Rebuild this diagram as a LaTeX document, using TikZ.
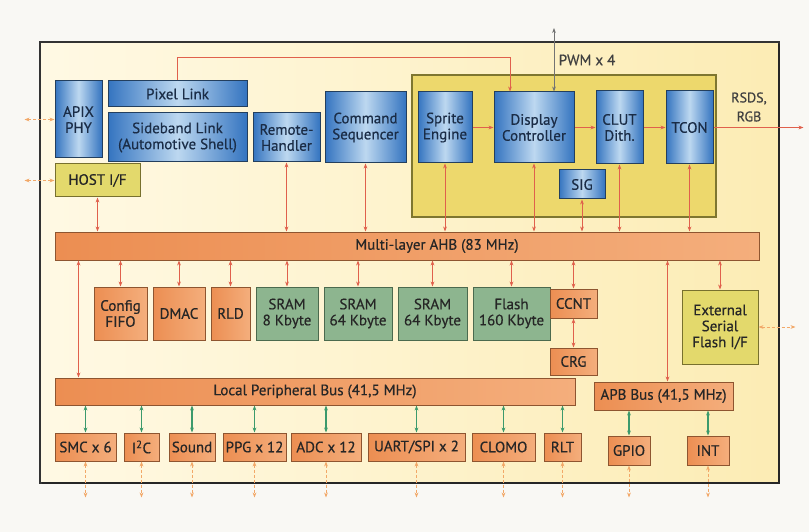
\documentclass[tikz,border=0pt]{standalone}
\usepackage{fontspec}
\setmainfont{PT Sans}[FakeBold=0.5]
\usetikzlibrary{arrows.meta, positioning}

\definecolor{papier}{HTML}{F9F8F4}
\definecolor{chipgelb}{HTML}{FCECB4}
\definecolor{chiphell}{HTML}{FFF9E4}
\definecolor{dispgelb}{HTML}{EDD86C}
\definecolor{dispdraw}{HTML}{7E7630}
\definecolor{blaurand}{HTML}{3474C0}
\definecolor{blaumitte}{HTML}{BDD8F0}
\definecolor{blaudraw}{HTML}{233F5E}
\definecolor{blautext}{HTML}{1A2C46}
\definecolor{orangel}{HTML}{EC8E52}
\definecolor{oranger}{HTML}{F4AE7C}
\definecolor{orangedraw}{HTML}{8E5530}
\definecolor{gruen}{HTML}{8DB58F}
\definecolor{gruendraw}{HTML}{4B6A4E}
\definecolor{oliv}{HTML}{E3D96C}
\definecolor{olivdraw}{HTML}{77702E}
\definecolor{rot}{HTML}{E0604C}
\definecolor{pfeilgruen}{HTML}{3C9A6C}
\definecolor{extorange}{HTML}{F2A868}

\begin{document}
\begin{tikzpicture}[
    x=1pt, y=-1pt,
    node distance = 5pt and 5pt,
    blau/.style = {rectangle, draw=blaudraw, line width=1pt, left color=blaurand,
                   right color=blaurand, middle color=blaumitte, text=blautext,
                   align=center, inner sep=1pt},
    orng/.style = {rectangle, draw=orangedraw, line width=1pt, left color=orangel,
                   right color=oranger, align=center, inner sep=1pt},
    gruenbox/.style = {rectangle, draw=gruendraw, line width=1pt, fill=gruen,
                   align=center, inner sep=1pt},
    olivbox/.style = {rectangle, draw=olivdraw, line width=1pt, fill=oliv,
                   align=center, inner sep=1pt},
    bus/.style = {rectangle, draw=orangedraw, line width=1pt, left color=orangel,
                  right color=oranger, inner sep=1pt},
    pil/.style = {rot, line width=0.9pt, -{Stealth[length=5pt]}},
    dpil/.style = {rot, line width=0.9pt, {Stealth[length=5pt]}-{Stealth[length=5pt]}},
    gpil/.style = {pfeilgruen, line width=1.2pt, {Stealth[length=5pt]}-{Stealth[length=5pt]}},
    xpil/.style = {extorange, line width=1pt, densely dashed, {Stealth[length=5pt]}-{Stealth[length=5pt]}},
    font=\fontsize{15}{16}\selectfont, text=black!85
    ]

  \useasboundingbox (0,0) rectangle (809,532);
  \fill[papier] (0,0) rectangle (809,532);

  % chip and display block
  \draw[left color=chiphell, right color=chipgelb, draw=black!80, line width=1.3pt]
    (40,42) rectangle (779,483);
  \draw[black!85, line width=2.5pt] (779,44) -- (779,483) -- (42,483);
  \draw[fill=dispgelb, draw=dispdraw, line width=1.2pt] (412,75) rectangle (716,217);

  % top row
  \node[blau, minimum width=47pt, minimum height=77pt] (apix) at (78.5,119.5) {APIX\\PHY} ;
  \node[blau, minimum width=139pt, minimum height=26pt] (pixel) at (177.5,94) {Pixel Link} ;
  \node[blau, minimum width=139pt, minimum height=49pt] (sideband) [below=5pt of pixel]
    {Sideband Link\\(Automotive Shell)} ;
  \node[blau, minimum width=67pt, minimum height=49pt] (remote) [right=5pt of sideband]
    {Remote-\\Handler} ;
  \node[blau, minimum width=81pt, minimum height=71pt] (cmdseq) at (365.5,127.5)
    {Command\\Sequencer} ;
  \node[olivbox, minimum width=85pt, minimum height=33pt] (host) at (97.5,180.5) {HOST I/F} ;

  % display block
  \node[blau, minimum width=54pt, minimum height=71pt] (sprite) at (445,127.5) {Sprite\\Engine} ;
  \node[blau, minimum width=80pt, minimum height=71pt] (disp) [right=21pt of sprite]
    {Display\\Controller} ;
  \node[blau, minimum width=47pt, minimum height=73pt] (clut) [right=21pt of disp] {CLUT\\Dith.} ;
  \node[blau, minimum width=47pt, minimum height=73pt] (tcon) [right=22pt of clut] {TCON} ;
  \node[blau, minimum width=46pt, minimum height=29pt] (sig) at (582,184.5) {SIG} ;

  \node[text=black!75] (pwm) at (587,60) {PWM x 4} ;
  \node[text=black!75, align=center, font=\fontsize{14}{19}\selectfont] (rsds) at (749,107) {RSDS,\\RGB} ;
  \coordinate (knick) at (510,57) ;
  \coordinate (pwmend) at (554,28) ;

  % AHB
  \node[bus, minimum width=704pt, minimum height=28pt,
        label={[xshift=30pt, text=black!85]center:Multi-layer AHB (83 MHz)}] (ahb) at (407,246) {} ;

  % memories
  \node[orng, minimum width=53pt, minimum height=53pt] (config) at (120.5,313.5) {Config\\FIFO} ;
  \node[orng, minimum width=52pt, minimum height=53pt] (dmac) [right=5pt of config] {DMAC} ;
  \node[orng, minimum width=39pt, minimum height=53pt] (rld) [right=5pt of dmac] {RLD} ;
  \node[gruenbox, minimum width=62pt, minimum height=53pt] (sram8) [right=5pt of rld] {SRAM\\8 Kbyte} ;
  \node[gruenbox, minimum width=68pt, minimum height=53pt] (sramA) [right=5pt of sram8] {SRAM\\64 Kbyte} ;
  \node[gruenbox, minimum width=69pt, minimum height=53pt] (sramB) [right=5pt of sramA] {SRAM\\64 Kbyte} ;
  \node[gruenbox, minimum width=77pt, minimum height=53pt] (flash) [right=5pt of sramB] {Flash\\160 Kbyte} ;
  \node[orng, minimum width=47pt, minimum height=29pt] (ccnt) at (573.5,303.5) {CCNT} ;
  \node[orng, minimum width=47pt, minimum height=27pt] (crg) [below=29pt of ccnt] {CRG} ;
  \node[olivbox, minimum width=76pt, minimum height=74pt] (extflash) at (720,327)
    {External\\Serial\\Flash I/F} ;

  % peripheral buses
  \node[bus, minimum width=520pt, minimum height=27pt] (lpb) at (315,391.5)
    {Local Peripheral Bus (41,5 MHz)} ;
  \node[bus, minimum width=139pt, minimum height=28pt] (apb) at (663.5,396) {APB Bus (41,5 MHz)} ;

  % peripherals
  \node[orng, minimum width=61pt, minimum height=28pt] (smc) at (85.5,447) {SMC x 6} ;
  \node[orng, minimum width=35pt, minimum height=28pt] (i2c) [right=7pt of smc] {I\textsuperscript{2}C} ;
  \node[orng, minimum width=46pt, minimum height=28pt] (sound) [right=9pt of i2c] {Sound} ;
  \node[orng, minimum width=63pt, minimum height=28pt] (ppg) [right=7pt of sound] {PPG x 12} ;
  \node[orng, minimum width=70pt, minimum height=28pt] (adc) [right=4pt of ppg] {ADC x 12} ;
  \node[orng, minimum width=97pt, minimum height=28pt] (uart) [right=6pt of adc] {UART/SPI x 2} ;
  \node[orng, minimum width=63pt, minimum height=28pt] (clomo) [right=6pt of uart] {CLOMO} ;
  \node[orng, minimum width=37pt, minimum height=28pt] (rlt) [right=8pt of clomo] {RLT} ;
  \node[orng, minimum width=42pt, minimum height=29pt] (gpio) at (629,450.5) {GPIO} ;
  \node[orng, minimum width=42pt, minimum height=29pt] (int) [right=36pt of gpio] {INT} ;

  % connections
  \draw[pil] (pixel.north) |- (knick) -- (knick |- disp.north) ;
  \draw[black!55, line width=0.9pt, {Stealth[length=5pt]}-{Stealth[length=5pt]}]
    (pwmend) -- (pwmend |- disp.north) ;
  \draw[pil] (sprite) -- (disp) ;
  \draw[pil] (disp) -- (clut) ;
  \draw[pil] (clut) -- (tcon) ;
  \draw[pil] (tcon.east) -- ([xshift=90pt]tcon.east) ;

  \foreach \n in {host,remote,cmdseq,sprite,disp,sig,clut,tcon}
    \draw[dpil] (\n.south) -- (\n.south |- ahb.north) ;
  \foreach \n in {config,dmac,rld,sram8,sramA,sramB,flash,ccnt,extflash}
    \draw[dpil] (ahb.south -| \n.north) -- (\n.north) ;
  \draw[dpil] (ccnt) -- (crg) ;
  \draw[dpil] (ahb.south -| apix.south) -- (lpb.north -| apix.south) ;
  \draw[dpil] ([xshift=4pt]ahb.south -| apb.north) -- ([xshift=4pt]apb.north) ;

  \foreach \n in {smc,i2c,sound,ppg,adc,uart,clomo,rlt}
    \draw[gpil] (lpb.south -| \n.north) -- (\n.north) ;
  \foreach \n in {gpio,int}
    \draw[gpil] (apb.south -| \n.north) -- (\n.north) ;

  \foreach \n in {smc,i2c,sound,ppg,adc,uart,clomo,rlt}
    \draw[xpil] (\n.south) -- ([yshift=-36pt]\n.south) ;
  \foreach \n in {gpio,int}
    \draw[xpil] (\n.south) -- ([yshift=-32pt]\n.south) ;
  \draw[xpil] (apix.west) -- ([xshift=-30pt]apix.west) ;
  \draw[xpil] (host.west) -- ([xshift=-30pt]host.west) ;
  \draw[xpil] (extflash.east) -- ([xshift=37pt]extflash.east) ;
\end{tikzpicture}
\end{document}
